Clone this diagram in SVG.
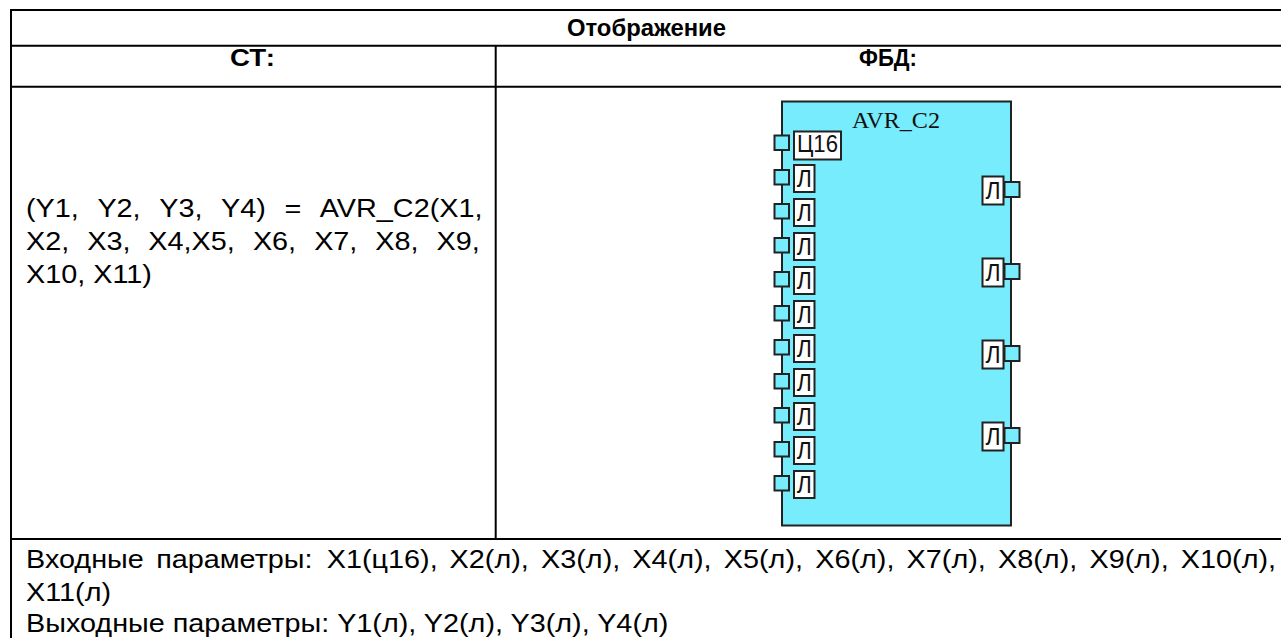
<svg xmlns="http://www.w3.org/2000/svg" width="1281" height="638" viewBox="0 0 1281 638">
<style>
.grid{stroke:#000;stroke-width:2;fill:none}
.t{font-family:"Liberation Sans",Arial,sans-serif;font-size:25.5px;fill:#000}
.h{font-family:"Liberation Sans",Arial,sans-serif;font-size:23.5px;font-weight:bold;fill:#000}
.blk{fill:#76ECFD;stroke:#222;stroke-width:2}
.port{fill:#76ECFD;stroke:#222;stroke-width:2}
.lbl{fill:#fff;stroke:#222;stroke-width:2}
.lt{font-family:"Liberation Sans",Arial,sans-serif;font-size:23px;fill:#111}
.title{font-family:"Liberation Serif","Times New Roman",serif;font-size:24px;fill:#111}
</style>
<rect width="1281" height="638" fill="#fff"/>
<g id="table" class="grid">
  <line x1="10" y1="10" x2="1281" y2="10"/>
  <line x1="11" y1="9" x2="11" y2="638"/>
  <line x1="10" y1="45.7" x2="1281" y2="45.7"/>
  <line x1="10" y1="86.7" x2="1281" y2="86.7"/>
  <line x1="10" y1="539" x2="1281" y2="539"/>
  <line x1="495.7" y1="45.7" x2="495.7" y2="539"/>
</g>
<g id="headers">
  <text class="h" x="567" y="36" textLength="159" lengthAdjust="spacingAndGlyphs">Отображение</text>
  <text class="h" x="230" y="65.5" textLength="45" lengthAdjust="spacingAndGlyphs">СТ:</text>
  <text class="h" x="859" y="65.5" textLength="58" lengthAdjust="spacingAndGlyphs">ФБД:</text>
</g>
<g id="st-text">
  <text class="t" transform="translate(26,216.7) scale(1.13,1)"><tspan x="0">(Y1,</tspan><tspan x="63.2">Y2,</tspan><tspan x="117.9">Y3,</tspan><tspan x="172.6">Y4)</tspan><tspan x="228.7">=</tspan><tspan x="260">AVR_C2(X1,</tspan></text>
  <text class="t" transform="translate(26,250) scale(1.13,1)"><tspan x="0">X2,</tspan><tspan x="54.2">X3,</tspan><tspan x="108.3">X4,X5,</tspan><tspan x="200.8">X6,</tspan><tspan x="255">X7,</tspan><tspan x="309.1">X8,</tspan><tspan x="363.3">X9,</tspan></text>
  <text class="t" transform="translate(26,283.3) scale(1.13,1)">X10, X11)</text>
</g>
<g id="params">
  <text class="t" transform="translate(26,568.3) scale(1.13,1)"><tspan x="0">Входные</tspan><tspan x="115.2">параметры:</tspan><tspan x="266.2">X1(ц16),</tspan><tspan x="374.9">X2(л),</tspan><tspan x="455.8">X3(л),</tspan><tspan x="536.6">X4(л),</tspan><tspan x="617.5">X5(л),</tspan><tspan x="698.4">X6(л),</tspan><tspan x="779.3">X7(л),</tspan><tspan x="860.2">X8(л),</tspan><tspan x="941.1">X9(л),</tspan><tspan x="1022">X10(л),</tspan></text>
  <text class="t" transform="translate(26,601.3) scale(1.13,1)">X11(л)</text>
  <text class="t" transform="translate(26,632) scale(1.13,1)">Выходные параметры: Y1(л), Y2(л), Y3(л), Y4(л)</text>
</g>
<g id="connectors"/>
<g id="avr_c2">
  <rect class="blk" x="782" y="101.5" width="229" height="424"/>
  <text class="title" x="852" y="127.7" textLength="88" lengthAdjust="spacingAndGlyphs">AVR_C2</text>
  <g id="in-x1">
    <rect class="port" x="774.5" y="135.5" width="14.5" height="14.5"/>
    <rect class="lbl" x="794" y="131.5" width="47" height="28"/>
    <text class="lt" x="797" y="152" textLength="41" lengthAdjust="spacingAndGlyphs">Ц16</text>
  </g>
  <g id="in-x2"><rect class="port" x="774.5" y="170" width="14.5" height="14.5"/><rect class="lbl" x="794" y="165" width="20.5" height="27"/><text class="lt" x="804.2" y="187" text-anchor="middle">Л</text></g>
  <g id="in-x3"><rect class="port" x="774.5" y="204" width="14.5" height="14.5"/><rect class="lbl" x="794" y="199" width="20.5" height="27"/><text class="lt" x="804.2" y="221" text-anchor="middle">Л</text></g>
  <g id="in-x4"><rect class="port" x="774.5" y="238" width="14.5" height="14.5"/><rect class="lbl" x="794" y="233" width="20.5" height="27"/><text class="lt" x="804.2" y="255" text-anchor="middle">Л</text></g>
  <g id="in-x5"><rect class="port" x="774.5" y="272" width="14.5" height="14.5"/><rect class="lbl" x="794" y="267" width="20.5" height="27"/><text class="lt" x="804.2" y="289" text-anchor="middle">Л</text></g>
  <g id="in-x6"><rect class="port" x="774.5" y="306" width="14.5" height="14.5"/><rect class="lbl" x="794" y="301" width="20.5" height="27"/><text class="lt" x="804.2" y="323" text-anchor="middle">Л</text></g>
  <g id="in-x7"><rect class="port" x="774.5" y="340" width="14.5" height="14.5"/><rect class="lbl" x="794" y="335" width="20.5" height="27"/><text class="lt" x="804.2" y="357" text-anchor="middle">Л</text></g>
  <g id="in-x8"><rect class="port" x="774.5" y="374" width="14.5" height="14.5"/><rect class="lbl" x="794" y="369" width="20.5" height="27"/><text class="lt" x="804.2" y="391" text-anchor="middle">Л</text></g>
  <g id="in-x9"><rect class="port" x="774.5" y="408" width="14.5" height="14.5"/><rect class="lbl" x="794" y="403" width="20.5" height="27"/><text class="lt" x="804.2" y="425" text-anchor="middle">Л</text></g>
  <g id="in-x10"><rect class="port" x="774.5" y="442" width="14.5" height="14.5"/><rect class="lbl" x="794" y="437" width="20.5" height="27"/><text class="lt" x="804.2" y="459" text-anchor="middle">Л</text></g>
  <g id="in-x11"><rect class="port" x="774.5" y="476" width="14.5" height="14.5"/><rect class="lbl" x="794" y="471" width="20.5" height="27"/><text class="lt" x="804.2" y="493" text-anchor="middle">Л</text></g>
  <g id="out-y1"><rect class="lbl" x="982.5" y="176.5" width="21" height="28"/><rect class="port" x="1004.5" y="182" width="15" height="15"/><text class="lt" x="993" y="199" text-anchor="middle">Л</text></g>
  <g id="out-y2"><rect class="lbl" x="982.5" y="258.5" width="21" height="28"/><rect class="port" x="1004.5" y="264" width="15" height="15"/><text class="lt" x="993" y="281" text-anchor="middle">Л</text></g>
  <g id="out-y3"><rect class="lbl" x="982.5" y="340.5" width="21" height="28"/><rect class="port" x="1004.5" y="346" width="15" height="15"/><text class="lt" x="993" y="363" text-anchor="middle">Л</text></g>
  <g id="out-y4"><rect class="lbl" x="982.5" y="422.5" width="21" height="28"/><rect class="port" x="1004.5" y="428" width="15" height="15"/><text class="lt" x="993" y="445" text-anchor="middle">Л</text></g>
</g>
</svg>
